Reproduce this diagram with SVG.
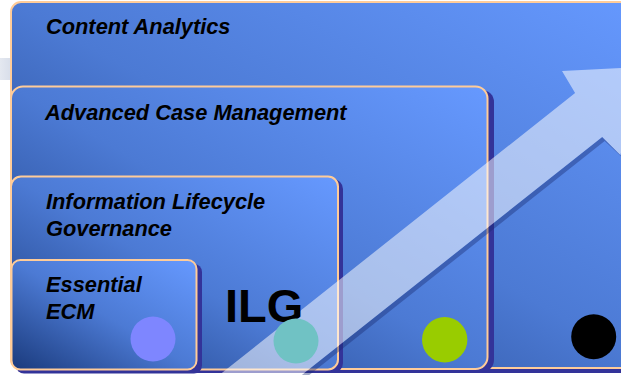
<svg xmlns="http://www.w3.org/2000/svg" width="621" height="375" viewBox="0 0 621 375">
<defs>
<linearGradient id="boxg" x1="0" y1="1" x2="1" y2="0">
<stop offset="0" stop-color="#1A3A7C"/>
<stop offset="0.5" stop-color="#4C7AD4"/>
<stop offset="1" stop-color="#6699FF"/>
</linearGradient>
<linearGradient id="blob" x1="0" y1="0" x2="1" y2="0">
<stop offset="0" stop-color="#E4E8F0"/>
<stop offset="1" stop-color="#D8DEEA"/>
</linearGradient>
<style>
.box{fill:url(#boxg);stroke:#FFCC99;stroke-width:2}
.shadow{fill:#333399}
.lbl{font-family:"Liberation Sans",Arial,sans-serif;font-weight:bold;font-style:italic;font-size:21.8px;fill:#000}
.big{font-family:"Liberation Sans",Arial,sans-serif;font-weight:bold;font-size:47px;fill:#000}
</style>
</defs>
<rect width="621" height="375" fill="#FFFFFF"/>
<rect x="0" y="58" width="11" height="22" fill="url(#blob)"/>

<g id="content-analytics">
<rect class="shadow" x="16" y="7" width="640" height="366" rx="10"/>
<rect class="box" x="11" y="2" width="640" height="366" rx="10"/>
<text class="lbl" x="46" y="34">Content Analytics</text>
</g>

<g id="advanced-case-management">
<rect class="shadow" x="17" y="90" width="477" height="282" rx="12"/>
<rect class="box" x="11" y="86.5" width="476.5" height="282.5" rx="12"/>
<text class="lbl" x="45" y="120">Advanced Case Management</text>
</g>

<g id="information-lifecycle-governance">
<rect class="shadow" x="17" y="179" width="326" height="194" rx="10"/>
<rect class="box" x="11" y="176.5" width="327" height="193" rx="10"/>
<text class="lbl" x="46" y="208.5">Information Lifecycle</text>
<text class="lbl" x="46" y="235.5">Governance</text>
</g>

<g id="essential-ecm">
<rect class="shadow" x="16" y="264" width="186" height="109.5" rx="8"/>
<rect class="box" x="11.5" y="260" width="185" height="109.5" rx="9"/>
<text class="lbl" x="46" y="291.5">Essential</text>
<text class="lbl" x="46" y="318.5">ECM</text>
</g>

<g id="connectors">
<polygon points="243.9,420.8 602.2,137 620.3,154.9 623,158 604.7,141 246.8,424.5" fill="#1A2A70" opacity="0.4"/>
<polygon points="212.2,380.6 575.1,93 562,71 650,66.6 620.3,154.9 602.2,137 243.9,420.8" fill="#FFFFFF" opacity="0.52"/>
</g>

<g id="ilg-label">
<text class="big" x="225" y="322">ILG</text>
</g>

<g id="markers">
<circle cx="153" cy="339" r="22.5" fill="#7E86FF"/>
<circle cx="296" cy="341" r="22.5" fill="#70C2C4"/>
<circle cx="444.7" cy="339.7" r="22.7" fill="#99CC00"/>
<circle cx="593.7" cy="336.7" r="22.5" fill="#000000"/>
</g>
</svg>
